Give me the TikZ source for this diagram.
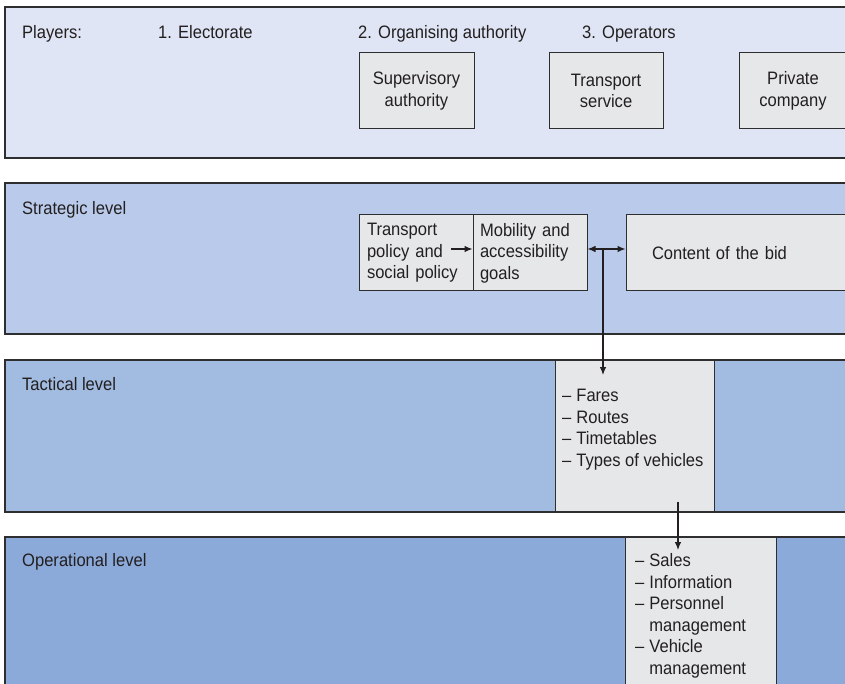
\documentclass[tikz,border=0pt]{standalone}
\usepackage{fontspec}
\setmainfont{Liberation Sans}[FakeStretch=0.92]
\usetikzlibrary{arrows.meta}
\definecolor{bandA}{HTML}{DFE5F4}
\definecolor{bandB}{HTML}{B9CAEA}
\definecolor{bandC}{HTML}{A2BBE0}
\definecolor{bandD}{HTML}{8BAAD9}
\definecolor{boxfill}{HTML}{E6E7E9}
\definecolor{edge}{HTML}{2E2E30}
\definecolor{ink}{HTML}{231F20}
\newcommand{\dashlist}[1]{\begin{tabular}[t]{@{}l@{\hspace{5pt}}l@{}}#1\end{tabular}}
\begin{document}
\begin{tikzpicture}[x=1pt,y=-1pt,
  >={Latex[length=8pt,width=6.5pt]},
  every node/.style={font=\fontsize{18}{21.6}\selectfont, text=ink},
  band/.style={draw=edge, line width=1.4pt},
  box/.style={draw=edge, fill=boxfill, line width=1pt, inner sep=0pt},
  lbl/.style={anchor=base west, inner sep=0pt},
  arr/.style={draw=ink, line width=1.1pt, ->},
]
\useasboundingbox (0,0) rectangle (845,684);
\clip (0,0) rectangle (845,684);

% the four horizontal bands
\draw[band, fill=bandA] (5,7)   rectangle (880,158);
\draw[band, fill=bandB] (5,183) rectangle (880,334);
\draw[band, fill=bandC] (5,360) rectangle (880,512);
\draw[band, fill=bandD] (5,537) rectangle (880,720);

% players row
\node[lbl] (players) at (22,38.5)  {Players:};
\node[lbl] (elect)   at (158,38.5) {1. Electorate};
\node[lbl] (orga)    at (358,38.5) {2. Organising authority};
\node[lbl] (oper)    at (582,38.5) {3. Operators};

\node[box, minimum width=115pt, minimum height=76pt, align=center] (sup) at (416.5,91) {Supervisory\\authority};
\node[box, minimum width=114pt, minimum height=76pt, align=center] (tsv) at (606,91) {Transport\\service};
\node[box, minimum width=108pt, minimum height=76pt, align=center] (pco) at (793,91) {Private\\company};

% strategic level
\node[lbl] (strat) at (22,215) {Strategic level};
\node[box, minimum width=114pt, minimum height=76pt, text width=98pt, align=left] (tpol) at (416,253)
  {Transport\\policy and\\social policy};
\node[box, minimum width=114pt, minimum height=76pt, text width=100pt, align=left] (mob) at (530,253)
  {Mobility and\\accessibility\\goals};
\node[box, minimum width=240pt, minimum height=76pt, text width=188pt, align=left] (bid) at (746,253)
  {Content of the bid};

% tactical level
\node[lbl] (tact) at (22,390.5) {Tactical level};
\node[box, minimum width=159pt, minimum height=151pt] (tac) at (634.5,435.5) {};
\node[lbl] (tactxt) at (562,401.5)
  {\dashlist{--&Fares\\--&Routes\\--&Timetables\\--&Types of vehicles}};

% operational level
\node[lbl] (opl) at (22,566.5) {Operational level};
\node[box, minimum width=151pt, minimum height=156pt] (ops) at (700.5,615) {};
\node[lbl] (opstxt) at (635,566.5)
  {\dashlist{--&Sales\\--&Information\\--&Personnel\\&management\\--&Vehicle\\&management}};

% connectors
\coordinate (pa) at (451,249);
\coordinate (j)  at (603,249);
\coordinate (t1) at (603,375);
\coordinate (c1) at (678,502);
\coordinate (c2) at (678,550);
\draw[arr] (pa) -- (pa -| mob.west);
\draw[arr, <->] (j -| mob.east) -- (j -| bid.west);
\draw[arr] (j) -- (t1);
\draw[arr] (c1) -- (c2);
\end{tikzpicture}
\end{document}
